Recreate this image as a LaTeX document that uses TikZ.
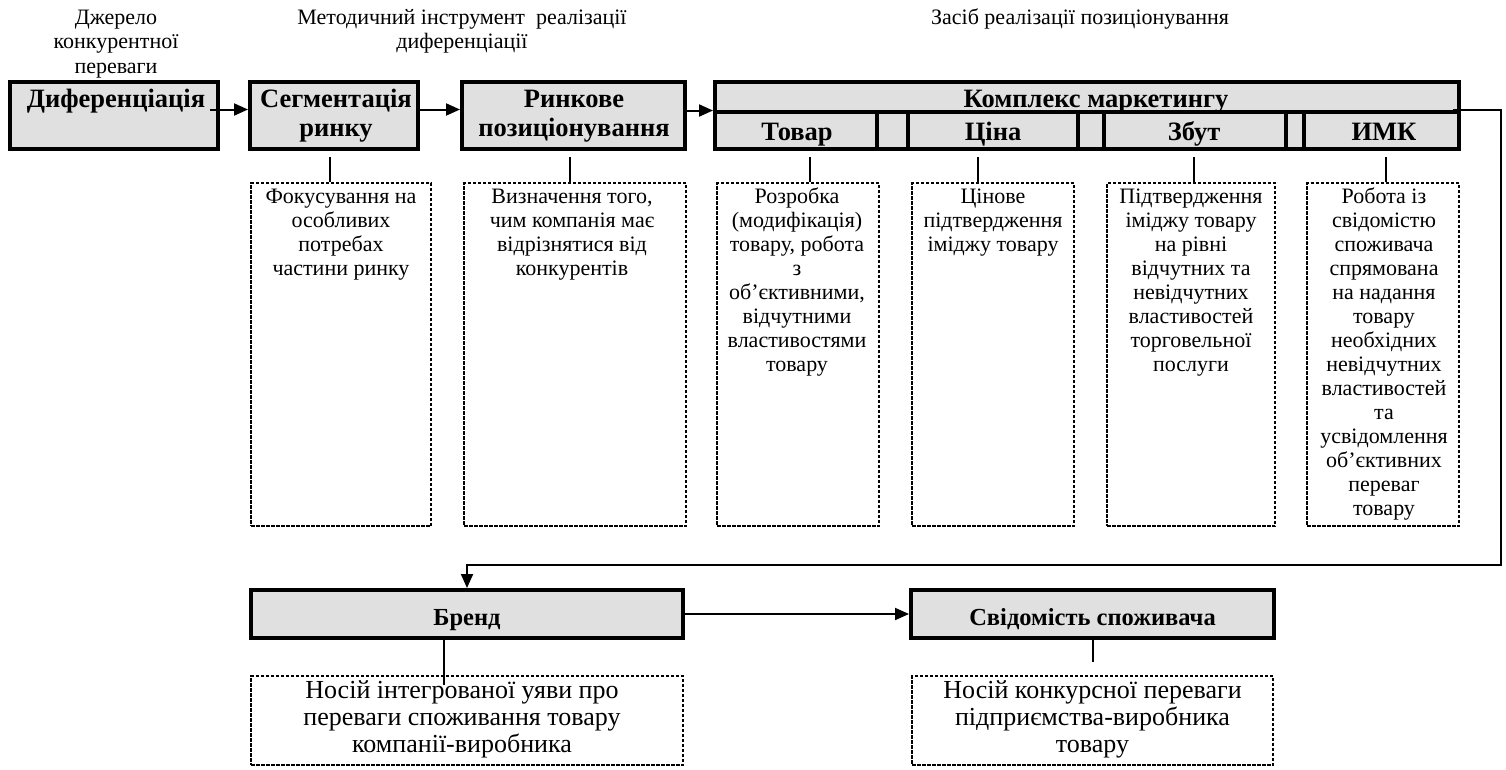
\documentclass[tikz,border=0pt]{standalone}
\usepackage{fontspec}
\setmainfont{Liberation Serif}
\usetikzlibrary{arrows.meta,calc}
\definecolor{boxgray}{RGB}{224,224,224}
\begin{document}
\begin{tikzpicture}[x=1pt,y=-1pt,
 hd/.style={draw=black,line width=4pt,fill=boxgray,inner sep=0pt,rectangle},
 db/.style={draw=black,line width=2pt,dash pattern=on 3.5pt off 1.5pt,inner sep=0pt,rectangle},
 tx/.style={inner sep=0pt,align=center,font=\fontsize{22}{24}\selectfont,anchor=north},
 ltx/.style={inner sep=0pt,align=center,font=\fontsize{22}{24.5}\selectfont,anchor=north},
 htx/.style={inner sep=0pt,align=center,font=\fontsize{26.5}{29}\selectfont\bfseries,anchor=north},
 btx/.style={inner sep=0pt,align=center,font=\fontsize{26}{27}\selectfont,anchor=north},
 bhtx/.style={inner sep=0pt,font=\fontsize{24.5}{27}\selectfont\bfseries,anchor=base},
 conn/.style={line width=2pt},
 arr/.style={line width=2pt,-{Triangle[length=14pt,width=12pt]}}]
\useasboundingbox (0,0) rectangle (1506,769);

% top labels
\node[ltx] (lab1) at (116,6.85) {\strut Джерело\\конкурентної\\переваги};
\node[ltx] (lab2) at (462,6.85) {\strut Методичний інструмент~ реалізації\\диференціації};
\node[ltx] (lab3) at (1080,6.85) {\strut Засіб реалізації позиціонування};

% row 1 solid boxes
\node[hd,minimum width=208pt,minimum height=67pt] (dif) at (114,115.5) {};
\node[hd,minimum width=168pt,minimum height=67pt] (seg) at (334,115.5) {};
\node[hd,minimum width=223pt,minimum height=67pt] (rin) at (573.5,115.5) {};
\node[hd,minimum width=744pt,minimum height=30pt] (kom) at (1087,97) {};
\node[hd,minimum width=162pt,minimum height=37pt] (tov) at (796,130.5) {};
\node[hd,minimum width=31pt,minimum height=37pt] (bl1) at (892.5,130.5) {};
\node[hd,minimum width=170pt,minimum height=37pt] (cin) at (993,130.5) {};
\node[hd,minimum width=26pt,minimum height=37pt] (bl2) at (1091,130.5) {};
\node[hd,minimum width=182pt,minimum height=37pt] (zbt) at (1195,130.5) {};
\node[hd,minimum width=18pt,minimum height=37pt] (bl3) at (1295,130.5) {};
\node[hd,minimum width=155pt,minimum height=37pt] (imk) at (1381.5,130.5) {};

\node[htx] (difT) at (116,86.7) {\strut Диференціація};
\node[htx] (segT) at (336,86.7) {\strut Сегментація\\ринку};
\node[htx] (rinT) at (574,86.7) {\strut Ринкове\\позиціонування};
\node[htx] (komT) at (1096,86.7) {\strut Комплекс маркетингу};
\node[htx] (tovT) at (797,119.7) {\strut Товар};
\node[htx] (cinT) at (993,119.7) {\strut Ціна};
\node[htx] (zbtT) at (1194,119.7) {\strut Збут};
\node[htx] (imkT) at (1384,119.7) {\strut ИМК};

% dashed boxes row 1
\node[db,minimum width=180pt,minimum height=343pt] (dseg) at (341,354.5) {};
\node[db,minimum width=222pt,minimum height=343pt] (drin) at (575,354.5) {};
\node[db,minimum width=162pt,minimum height=343pt] (dtov) at (798,354.5) {};
\node[db,minimum width=162pt,minimum height=343pt] (dcin) at (993,354.5) {};
\node[db,minimum width=168pt,minimum height=343pt] (dzbt) at (1191,354.5) {};
\node[db,minimum width=152pt,minimum height=343pt] (dimk) at (1383,354.5) {};

\node[tx] (dsegT) at (341,186.2) {\strut Фокусування на\\особливих\\потребах\\частини ринку};
\node[tx] (drinT) at (572,186.2) {\strut Визначення того,\\чим компанія має\\відрізнятися від\\конкурентів};
\node[tx] (dtovT) at (797,186.2) {\strut Розробка\\(модифікація)\\товару, робота\\з\\об’єктивними,\\відчутними\\властивостями\\товару};
\node[tx] (dcinT) at (993,186.2) {\strut Цінове\\підтвердження\\іміджу товару};
\node[tx] (dzbtT) at (1191,186.2) {\strut Підтвердження\\іміджу товару\\на рівні\\відчутних та\\невідчутних\\властивостей\\торговельної\\послуги};
\node[tx] (dimkT) at (1384,186.2) {\strut Робота із\\свідомістю\\споживача\\спрямована\\на надання\\товару\\необхідних\\невідчутних\\властивостей\\та\\усвідомлення\\об’єктивних\\переваг\\товару};

% bottom row
\node[hd,minimum width=432pt,minimum height=48pt] (brand) at (467,614) {};
\node[hd,minimum width=363pt,minimum height=48pt] (svid) at (1092.5,614) {};
\node[bhtx] (brandT) at (467,625) {Бренд};
\node[bhtx] (svidT) at (1092.5,625) {Свідомість споживача};

\node[db,minimum width=432pt,minimum height=89pt] (dbrand) at (467,720.5) {};
\node[db,minimum width=361pt,minimum height=89pt] (dsvid) at (1092.5,720.5) {};
\node[btx] (dbrandT) at (462,679.1) {\strut Носій інтегрованої уяви про\\переваги споживання товару\\компанії-виробника};
\node[btx] (dsvidT) at (1092.5,679.1) {\strut Носій конкурсної переваги\\підприємства-виробника\\товару};

% arrows row 1
\draw[arr] ([xshift=-10pt,yshift=6pt]dif.east) -- ([yshift=6pt]seg.west);
\draw[arr] ([yshift=6pt]seg.east) -- ([yshift=6pt]rin.west);
\draw[arr] ([yshift=5pt]rin.east) -- ([yshift=5pt]rin.east -| kom.west);

% main connector
\coordinate (turnR) at (1501,565);
\draw[arr] ([xshift=-8pt,yshift=4pt]kom.south east) -| (turnR) -| (brand.north);
\draw[arr] (brand.east) -- (svid.west);

% stems row 1
\coordinate (sSeg) at ([xshift=-4pt,yshift=-6pt]seg.south);
\coordinate (sRin) at ([xshift=-3.5pt,yshift=-6pt]rin.south);
\coordinate (sTov) at ([xshift=14pt,yshift=-6pt]tov.south);
\coordinate (sCin) at ([xshift=-15pt,yshift=-6pt]cin.south);
\coordinate (sZbt) at ([xshift=-1pt,yshift=-6pt]zbt.south);
\coordinate (sImk) at ([xshift=4.5pt,yshift=-6pt]imk.south);
\draw[conn] (sSeg) -- (sSeg |- dseg.north);
\draw[conn] (sRin) -- (sRin |- drin.north);
\draw[conn] (sTov) -- (sTov |- dtov.north);
\draw[conn] (sCin) -- (sCin |- dcin.north);
\draw[conn] (sZbt) -- (sZbt |- dzbt.north);
\draw[conn] (sImk) -- (sImk |- dimk.north);

% stems bottom
\coordinate (sBr) at ([xshift=-23pt,yshift=3pt]brand.south);
\coordinate (eBr) at ([yshift=-10pt]dbrand.north);
\draw[conn] (sBr) -- (sBr |- eBr);
\coordinate (sSv) at ([yshift=2pt]svid.south);
\coordinate (eSv) at ([yshift=13pt]dsvid.north);
\draw[conn] (sSv) -- (sSv |- eSv);
\end{tikzpicture}
\end{document}
